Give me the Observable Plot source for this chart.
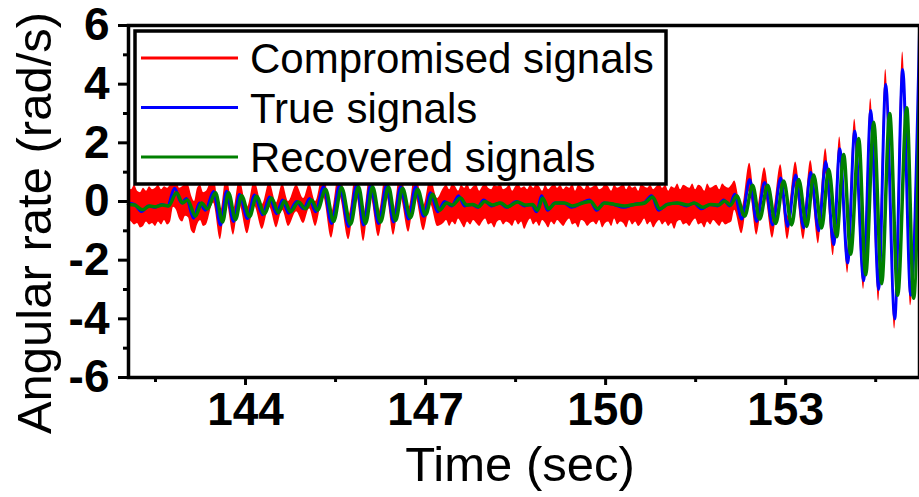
<!DOCTYPE html>
<html><head><meta charset="utf-8">
<script src="https://cdn.jsdelivr.net/npm/d3@7"></script>
<script src="https://cdn.jsdelivr.net/npm/@observablehq/plot@0.6"></script>
<style>body{margin:0;background:#fff;}</style>
</head><body><div id="chart"></div>
<script>
// True signals (blue)
const tTrue = [142.05,142.15,142.267,142.383,142.483,142.6,142.7,142.817,142.933,143.017,143.133,143.233,143.333,
143.467,143.583,143.683,143.8,143.9,144.033,144.15,144.283,144.4,144.517,144.617,144.717,144.85,144.967,145.067,145.167,
145.3,145.433,145.567,145.717,145.85,145.967,146.083,146.217,146.35,146.467,146.583,146.717,146.833,146.967,147.083,147.2,147.317,
147.433,147.55,147.65,147.767,147.867,147.967,148.1,148.233,148.35,148.517,148.65,148.767,148.85,148.933,149.033,149.15,149.3,149.433,149.6,149.733,149.85,149.967,150.133,150.3,150.467,150.633,150.767,150.883,151.017,151.183,151.35,151.467,151.6,151.733,151.867,151.967,152.067,152.15,
152.267,152.4,152.517,152.65,152.783,152.917,153.033,153.167,153.3,153.417,153.55,153.667,153.8,153.9,154.033,154.15,154.3,154.417,154.55,154.667,154.817,154.95,155.083,155.23];
const vTrue = [-0.05,-0.1,-0.34,-0.15,-0.2,-0.1,-0.15,0.45,-0.05,0.1,-0.57,-0.05,-0.3,
0.34,-0.8,0.35,-0.68,0.24,-0.58,0.22,-0.45,0.15,-0.42,0.05,-0.4,0.0,-0.25,0.1,-0.35,
0.5,-0.75,0.55,-0.85,0.55,-0.8,0.55,-0.75,0.55,-0.7,0.5,-0.6,0.5,-0.5,0.3,-0.35,0.0,
-0.15,0.2,-0.15,-0.1,-0.2,0.05,-0.15,-0.05,-0.2,0.0,-0.15,-0.1,-0.35,0.2,-0.3,-0.05,-0.05,-0.2,-0.05,0.05,-0.3,-0.05,-0.1,-0.2,-0.1,-0.05,0.2,-0.3,-0.1,-0.05,-0.15,-0.05,-0.25,-0.1,-0.15,0.05,-0.15,0.25,
-0.6,0.75,-0.68,0.65,-0.8,0.8,-0.85,0.9,-0.9,1.0,-1.0,1.36,-1.47,1.8,-2.1,2.4,-2.7,3.1,-3.0,4.0,-4.0,4.5,-3.2,5.8];

// Recovered signals (green)
const tRec = [142.05,142.15,142.283,142.4,142.5,142.617,142.717,142.85,142.95,143.033,143.167,143.267,143.367,
143.5,143.617,143.717,143.833,143.933,144.067,144.183,144.317,144.433,144.55,144.65,144.75,144.883,145.0,145.1,145.2,
145.333,145.467,145.6,145.75,145.883,146.0,146.117,146.25,146.383,146.5,146.617,146.75,146.867,147.0,147.117,147.233,147.35,
147.45,147.583,147.683,147.783,147.883,147.983,148.117,148.25,148.367,148.533,148.667,148.783,148.867,148.95,149.05,149.167,149.317,149.45,149.617,149.75,149.867,149.983,150.15,150.317,150.483,150.65,150.783,150.9,151.033,151.2,151.367,151.483,151.617,151.75,151.883,151.983,152.083,152.183,
152.317,152.45,152.567,152.7,152.833,152.967,153.1,153.217,153.35,153.467,153.6,153.717,153.85,153.967,154.083,154.217,154.333,154.467,154.6,154.733,154.867,155.017,155.133,155.23];
const vRec = [-0.1,-0.12,-0.28,-0.15,-0.18,-0.12,-0.15,0.3,-0.05,0.05,-0.5,-0.05,-0.25,
0.3,-0.7,0.3,-0.62,0.2,-0.52,0.18,-0.42,0.12,-0.38,0.02,-0.35,-0.02,-0.25,0.05,-0.3,
0.42,-0.68,0.48,-0.78,0.5,-0.75,0.5,-0.7,0.5,-0.65,0.45,-0.55,0.42,-0.45,0.25,-0.3,-0.05,
-0.12,0.12,-0.12,-0.1,-0.18,0.0,-0.12,-0.05,-0.18,-0.02,-0.12,-0.1,-0.3,0.12,-0.25,-0.05,-0.05,-0.15,-0.05,0.0,-0.25,-0.05,-0.1,-0.15,-0.1,-0.05,0.15,-0.25,-0.1,-0.05,-0.12,-0.05,-0.2,-0.1,-0.12,0.02,-0.12,0.2,
-0.5,0.55,-0.6,0.55,-0.75,0.7,-0.8,0.75,-0.85,0.9,-0.9,1.1,-1.2,1.6,-1.8,2.15,-2.5,2.7,-2.8,3.0,-3.2,3.2,-3.3,3.4];

// Compromised signals (red): noisy band, lower and upper envelope
const tComp = [142.05,142.1,142.15,142.2,142.25,142.3,142.35,142.4,142.45,142.5,142.55,142.6,142.65,142.7,142.75,142.8,142.85,142.9,142.95,143.0,143.05,143.1,143.15,143.2,143.25,143.3,143.35,
143.467,143.583,143.683,143.8,143.9,144.033,144.15,144.283,144.4,144.517,144.617,144.717,144.85,144.967,145.067,145.167,
145.3,145.433,145.567,145.717,145.85,145.967,146.083,146.217,146.35,146.467,146.583,146.717,146.833,146.967,147.083,147.2,
147.3,147.35,147.4,147.45,147.5,147.55,147.6,147.65,147.7,147.75,147.8,147.85,147.9,147.95,148.0,148.05,148.1,148.15,148.2,148.25,
148.3,148.35,148.4,148.45,148.5,148.55,148.6,148.65,148.7,148.75,148.8,148.85,148.9,148.95,149.0,149.05,149.1,149.15,149.2,149.25,
149.3,149.35,149.4,149.45,149.5,149.55,149.6,149.65,149.7,149.75,149.8,149.85,149.9,149.95,150.0,150.05,150.1,150.15,150.2,150.25,
150.3,150.35,150.4,150.45,150.5,150.55,150.6,150.65,150.7,150.75,150.8,150.85,150.9,150.95,151.0,151.05,151.1,151.15,151.2,151.25,
151.3,151.35,151.4,151.45,151.5,151.55,151.6,151.65,151.7,151.75,151.8,151.85,151.9,151.95,152.0,152.05,152.1,152.15,
152.267,152.4,152.517,152.65,152.783,152.917,153.033,153.167,153.3,153.417,153.55,153.667,153.8,153.9,154.033,154.15,154.3,154.417,154.55,154.667,154.817,154.95,155.083,155.23];
const compLo = [-0.6,-0.7,-0.8,-0.75,-0.9,-0.85,-0.7,-0.8,-0.75,-0.85,-0.7,-0.8,-0.65,-0.8,-0.7,-0.2,-0.3,-0.6,-0.7,-0.5,-0.55,-1.0,-1.1,-0.8,-0.65,-0.85,-0.8,
-0.05,-1.3,0.0,-1.15,-0.1,-1.1,-0.15,-0.95,-0.2,-0.9,-0.3,-0.85,-0.35,-0.75,-0.25,-0.85,
0.15,-1.25,0.2,-1.3,0.2,-1.36,0.2,-1.2,0.2,-1.15,0.15,-1.05,0.15,-1.0,-0.1,-0.85,
-0.75,-0.65,-0.85,-0.7,-0.8,-0.6,-0.75,-0.9,-0.7,-0.8,-0.65,-0.75,-0.85,-0.7,-0.6,-0.8,-0.75,-0.9,-0.7,-0.65,
-0.8,-0.7,-0.75,-0.85,-0.65,-0.8,-0.7,-0.95,-0.75,-0.6,-0.8,-0.7,-0.85,-0.65,-0.75,-0.9,-0.7,-0.8,-0.65,-0.75,
-0.85,-0.7,-0.6,-0.8,-0.75,-0.9,-0.65,-0.7,-0.85,-0.75,-0.7,-0.8,-0.65,-0.9,-0.75,-0.7,-0.85,-0.6,-0.8,-0.7,
-0.75,-0.9,-0.65,-0.8,-0.7,-0.85,-0.75,-0.6,-0.8,-0.7,-0.9,-0.75,-0.65,-0.8,-0.7,-0.85,-0.75,-0.95,-0.7,-0.65,
-0.8,-0.75,-0.85,-0.7,-0.6,-0.8,-0.75,-0.9,-0.7,-0.8,-0.65,-0.75,-0.85,-0.7,-0.8,-0.75,-0.7,-0.3,
-1.1,0.35,-1.15,0.3,-1.25,0.45,-1.3,0.5,-1.3,0.6,-1.45,0.95,-1.85,1.4,-2.45,2.0,-3.0,2.7,-3.4,3.6,-4.35,4.1,-3.55,5.4];
const compHi = [0.5,0.4,0.55,0.35,0.3,0.45,0.35,0.5,0.4,0.45,0.55,0.4,0.5,0.45,0.6,0.95,0.8,0.45,0.5,0.6,0.55,0.2,0.0,0.45,0.55,0.3,0.35,
0.85,-0.4,0.85,-0.3,0.75,-0.2,0.7,-0.1,0.65,-0.05,0.6,0.0,0.55,0.1,0.6,0.0,
1.0,-0.4,1.05,-0.5,1.05,-0.45,1.05,-0.4,1.05,-0.35,1.0,-0.25,1.0,-0.15,0.8,0.1,
0.45,0.55,0.4,0.6,0.5,0.35,0.55,0.45,0.6,0.4,0.5,0.55,0.35,0.5,0.6,0.45,0.4,0.55,0.5,0.6,
0.4,0.45,0.55,0.35,0.5,0.6,0.45,0.5,0.4,0.55,0.45,0.6,0.5,0.35,0.55,0.4,0.5,0.6,0.45,0.55,
0.4,0.5,0.45,0.6,0.35,0.55,0.5,0.4,0.6,0.45,0.5,0.55,0.4,0.45,0.6,0.5,0.35,0.55,0.45,0.5,
0.6,0.4,0.55,0.45,0.5,0.35,0.6,0.5,0.45,0.55,0.4,0.5,0.6,0.45,0.55,0.35,0.5,0.45,0.6,0.4,
0.55,0.5,0.45,0.6,0.4,0.55,0.5,0.35,0.6,0.45,0.5,0.55,0.4,0.6,0.5,0.45,0.55,0.7,
-0.25,1.3,-0.35,1.15,-0.45,1.25,-0.5,1.35,-0.55,1.4,-0.65,1.8,-1.1,2.2,-1.75,2.8,-2.35,3.5,-2.65,4.5,-3.65,5.1,-2.85,6.0];

const xTicks = [144, 147, 150, 153];
const xMinor = [142.5, 145.5, 148.5, 151.5, 154.5];
const yTicks = [-6, -4, -2, 0, 2, 4, 6];
const yMinor = [-5, -3, -1, 1, 3, 5];
const seriesNames = ["Compromised signals", "True signals", "Recovered signals"];
const seriesColors = ["#ff0000", "#0000ff", "#008000"];
const xTitle = "Time (sec)";
const yTitle = "Angular rate (rad/s)";

const trueData = tTrue.map((t, i) => ({t, v: vTrue[i]}));
const recData = tRec.map((t, i) => ({t, v: vRec[i]}));
const compData = tComp.map((t, i) => ({t, lo: compLo[i], hi: compHi[i]}));

const FONT = "'Liberation Sans', Arial, Helvetica, sans-serif";
const fmt = d => String(d);

const plot = Plot.plot({
  width: 919, height: 497,
  marginLeft: 128, marginRight: 0, marginTop: 25, marginBottom: 120,
  x: {domain: [142.05, 155.23]},
  y: {domain: [-6, 6]},
  style: {fontFamily: FONT, background: "white", color: "black", overflow: "visible"},
  marks: [
    Plot.areaY(compData, {x: "t", y1: "lo", y2: "hi", fill: seriesColors[0], curve: "monotone-x"}),
    Plot.lineY(trueData, {x: "t", y: "v", stroke: seriesColors[1], strokeWidth: 3, curve: "monotone-x"}),
    Plot.lineY(recData, {x: "t", y: "v", stroke: seriesColors[2], strokeWidth: 3.5, curve: "monotone-x"}),
    Plot.axisX(xTicks, {tickSize: 8, tickPadding: 7, strokeWidth: 3, fontSize: 46, fontWeight: "bold", tickFormat: fmt, label: null}),
    Plot.axisX(xMinor, {tickSize: 5, strokeWidth: 3, text: null, label: null}),
    Plot.axisY(yTicks, {tickSize: 10, tickPadding: 9, strokeWidth: 3, fontSize: 46, fontWeight: "bold", tickFormat: fmt, label: null}),
    Plot.axisY(yMinor, {tickSize: 5, strokeWidth: 3, text: null, label: null}),
    Plot.frame({stroke: "black", strokeWidth: 3.5})
  ]
});

document.getElementById("chart").appendChild(plot);

const svg = d3.select(plot);

// Axis titles
svg.append("text").attr("x", 520).attr("y", 481).attr("text-anchor", "middle")
  .attr("font-family", FONT).attr("font-size", 49).attr("fill", "black").text(xTitle);
svg.append("text").attr("transform", "translate(51,223) rotate(-90)").attr("text-anchor", "middle")
  .attr("font-family", FONT).attr("font-size", 49).attr("fill", "black").text(yTitle);

// Legend inside the plot area
const lg = svg.append("g").attr("font-family", FONT);
lg.append("rect").attr("x", 135).attr("y", 31).attr("width", 531).attr("height", 153)
  .attr("fill", "white").attr("stroke", "black").attr("stroke-width", 3.5);
seriesNames.forEach((name, i) => {
  const yy = 58 + i * 49.5;
  lg.append("line").attr("x1", 141).attr("x2", 238).attr("y1", yy).attr("y2", yy)
    .attr("stroke", seriesColors[i]).attr("stroke-width", 3);
  lg.append("text").attr("x", 250).attr("y", yy).attr("dy", "0.36em").attr("text-anchor", "start")
    .attr("font-size", 42).attr("fill", "black").text(name);
});
</script>
</body></html>
